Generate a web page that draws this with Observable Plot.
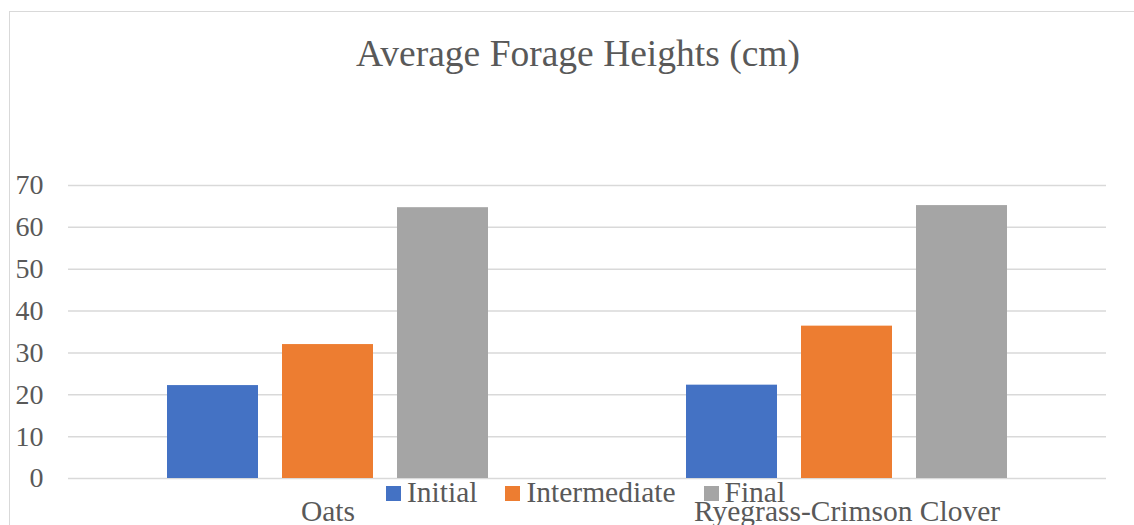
<!DOCTYPE html>
<html>
<head>
<meta charset="utf-8">
<script src="https://cdn.jsdelivr.net/npm/d3@7"></script>
<script src="https://cdn.jsdelivr.net/npm/@observablehq/plot@0.6"></script>
<style>
  html, body { margin: 0; padding: 0; background: #fff; }
  #wrap { position: relative; width: 1134px; height: 525px; overflow: hidden; font-family: "Liberation Serif", "Times New Roman", serif; color: #595959; }
  #border { position: absolute; left: 9px; top: 11px; width: 1200px; height: 600px; border-left: 1.5px solid #d9d9d9; border-top: 1.5px solid #d9d9d9; }
  #title { position: absolute; left: 278px; width: 600px; top: 32px; text-align: center; font-size: 37.5px; line-height: 44px; white-space: nowrap; }
  #chart { position: absolute; left: 0; top: 0; }
  #legend { position: absolute; left: 386px; top: 478px; display: flex; align-items: center; font-size: 29.5px; line-height: 29.5px; white-space: nowrap; }
  .item { display: flex; align-items: center; }
  .sw { width: 15px; height: 15px; margin-right: 6px; margin-top: 2px; }
</style>
</head>
<body>
<div id="wrap">
  <div id="border"></div>
  <div id="chart"></div>
  <div id="title">Average Forage Heights (cm)</div>
  <div id="legend"></div>
</div>
<script>
const categories = ["Oats", "Ryegrass-Crimson Clover"];
const seriesNames = ["Initial", "Intermediate", "Final"];
const seriesColors = ["#4472c4", "#ed7d31", "#a5a5a5"];
const initialValues = [22.2, 22.3];
const intermediateValues = [32.0, 36.4];
const finalValues = [64.7, 65.2];
const yTicks = [0, 10, 20, 30, 40, 50, 60, 70];

const seriesValues = [initialValues, intermediateValues, finalValues];
const data = [];
categories.forEach((c, i) => {
  seriesNames.forEach((s, j) => {
    data.push({category: c, series: s, value: seriesValues[j][i]});
  });
});

const chart = Plot.plot({
  width: 1134,
  height: 525,
  marginTop: 185,
  marginBottom: 47,
  marginLeft: 67,
  marginRight: 28,
  style: {fontFamily: "'Liberation Serif', 'Times New Roman', serif", color: "#595959", background: "transparent", overflow: "visible"},
  fx: {domain: categories, padding: 0},
  x: {domain: seriesNames, paddingInner: 0.21, paddingOuter: 0.858, axis: null},
  y: {domain: [0, 70], ticks: yTicks},
  color: {domain: seriesNames, range: seriesColors},
  marks: [
    Plot.ruleY(yTicks, {stroke: "#d9d9d9", strokeWidth: 1.5}),
    Plot.barY(data, {fx: "category", x: "series", y: "value", fill: "series", inset: 0}),
    Plot.axisY({ticks: yTicks, tickSize: 0, tickPadding: 25, fontSize: 28, label: null}),
    Plot.axisFx({anchor: "bottom", tickSize: 0, tickPadding: 22, fontSize: 29.5, label: null})
  ]
});
document.getElementById("chart").appendChild(chart);

const legend = document.getElementById("legend");
seriesNames.forEach((s, i) => {
  const item = document.createElement("div");
  item.className = "item";
  item.style.marginRight = "28px";
  const sw = document.createElement("div");
  sw.className = "sw";
  sw.style.background = seriesColors[i];
  const t = document.createElement("span");
  t.textContent = s;
  item.appendChild(sw);
  item.appendChild(t);
  legend.appendChild(item);
});
</script>
</body>
</html>
